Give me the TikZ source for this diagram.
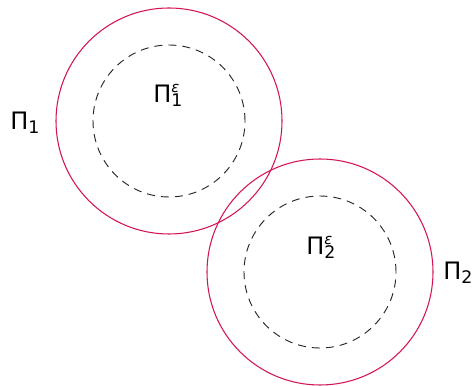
\documentclass[tikz,border=0pt]{standalone}
\usepackage{fontspec}
\setmainfont{DejaVu Sans}
\usepackage{tikz}
\usetikzlibrary{positioning}
\definecolor{RingRed}{RGB}{212,20,88}
\newcommand{\PiLbl}[1]{Π\raisebox{-2.4pt}{\fontsize{13}{13}\selectfont #1}}
\newcommand{\PiEps}[1]{Π\rlap{\raisebox{8.2pt}{\fontsize{11}{11}\selectfont\itshape ε}}\raisebox{-2.4pt}{\fontsize{13}{13}\selectfont #1}}
\tikzset{
  outerring/.style={circle,draw=RingRed,line width=0.8pt,minimum size=169.5pt,
    inner sep=0pt,outer sep=0pt},
  innerring/.style={circle,draw=black!85,dash pattern=on 6pt off 4.5pt,line width=0.7pt,
    minimum size=114pt,inner sep=0pt,outer sep=0pt},
  setlabel/.style={anchor=base west,inner sep=0pt,font=\fontsize{18}{22}\selectfont}
}
\begin{document}
\begin{tikzpicture}[x=0.75pt,y=0.75pt]
  \useasboundingbox (0,0) rectangle (474,385);
  \node[outerring] (P1) at (169,264) {};
  \node[innerring] (E1) at (169,264) {};
  \node[outerring] (P2) at (320,113) {};
  \node[innerring] (E2) at (320,113) {};
  % labels
  \node[setlabel] (L1) at (10,255) {\PiLbl{1}};
  \node[setlabel] (LE1) at (153,282) {\PiEps{1}};
  \node[setlabel] (LE2) at (306,130) {\PiEps{2}};
  \node[setlabel] (L2) at (443,105) {\PiLbl{2}};
\end{tikzpicture}
\end{document}
